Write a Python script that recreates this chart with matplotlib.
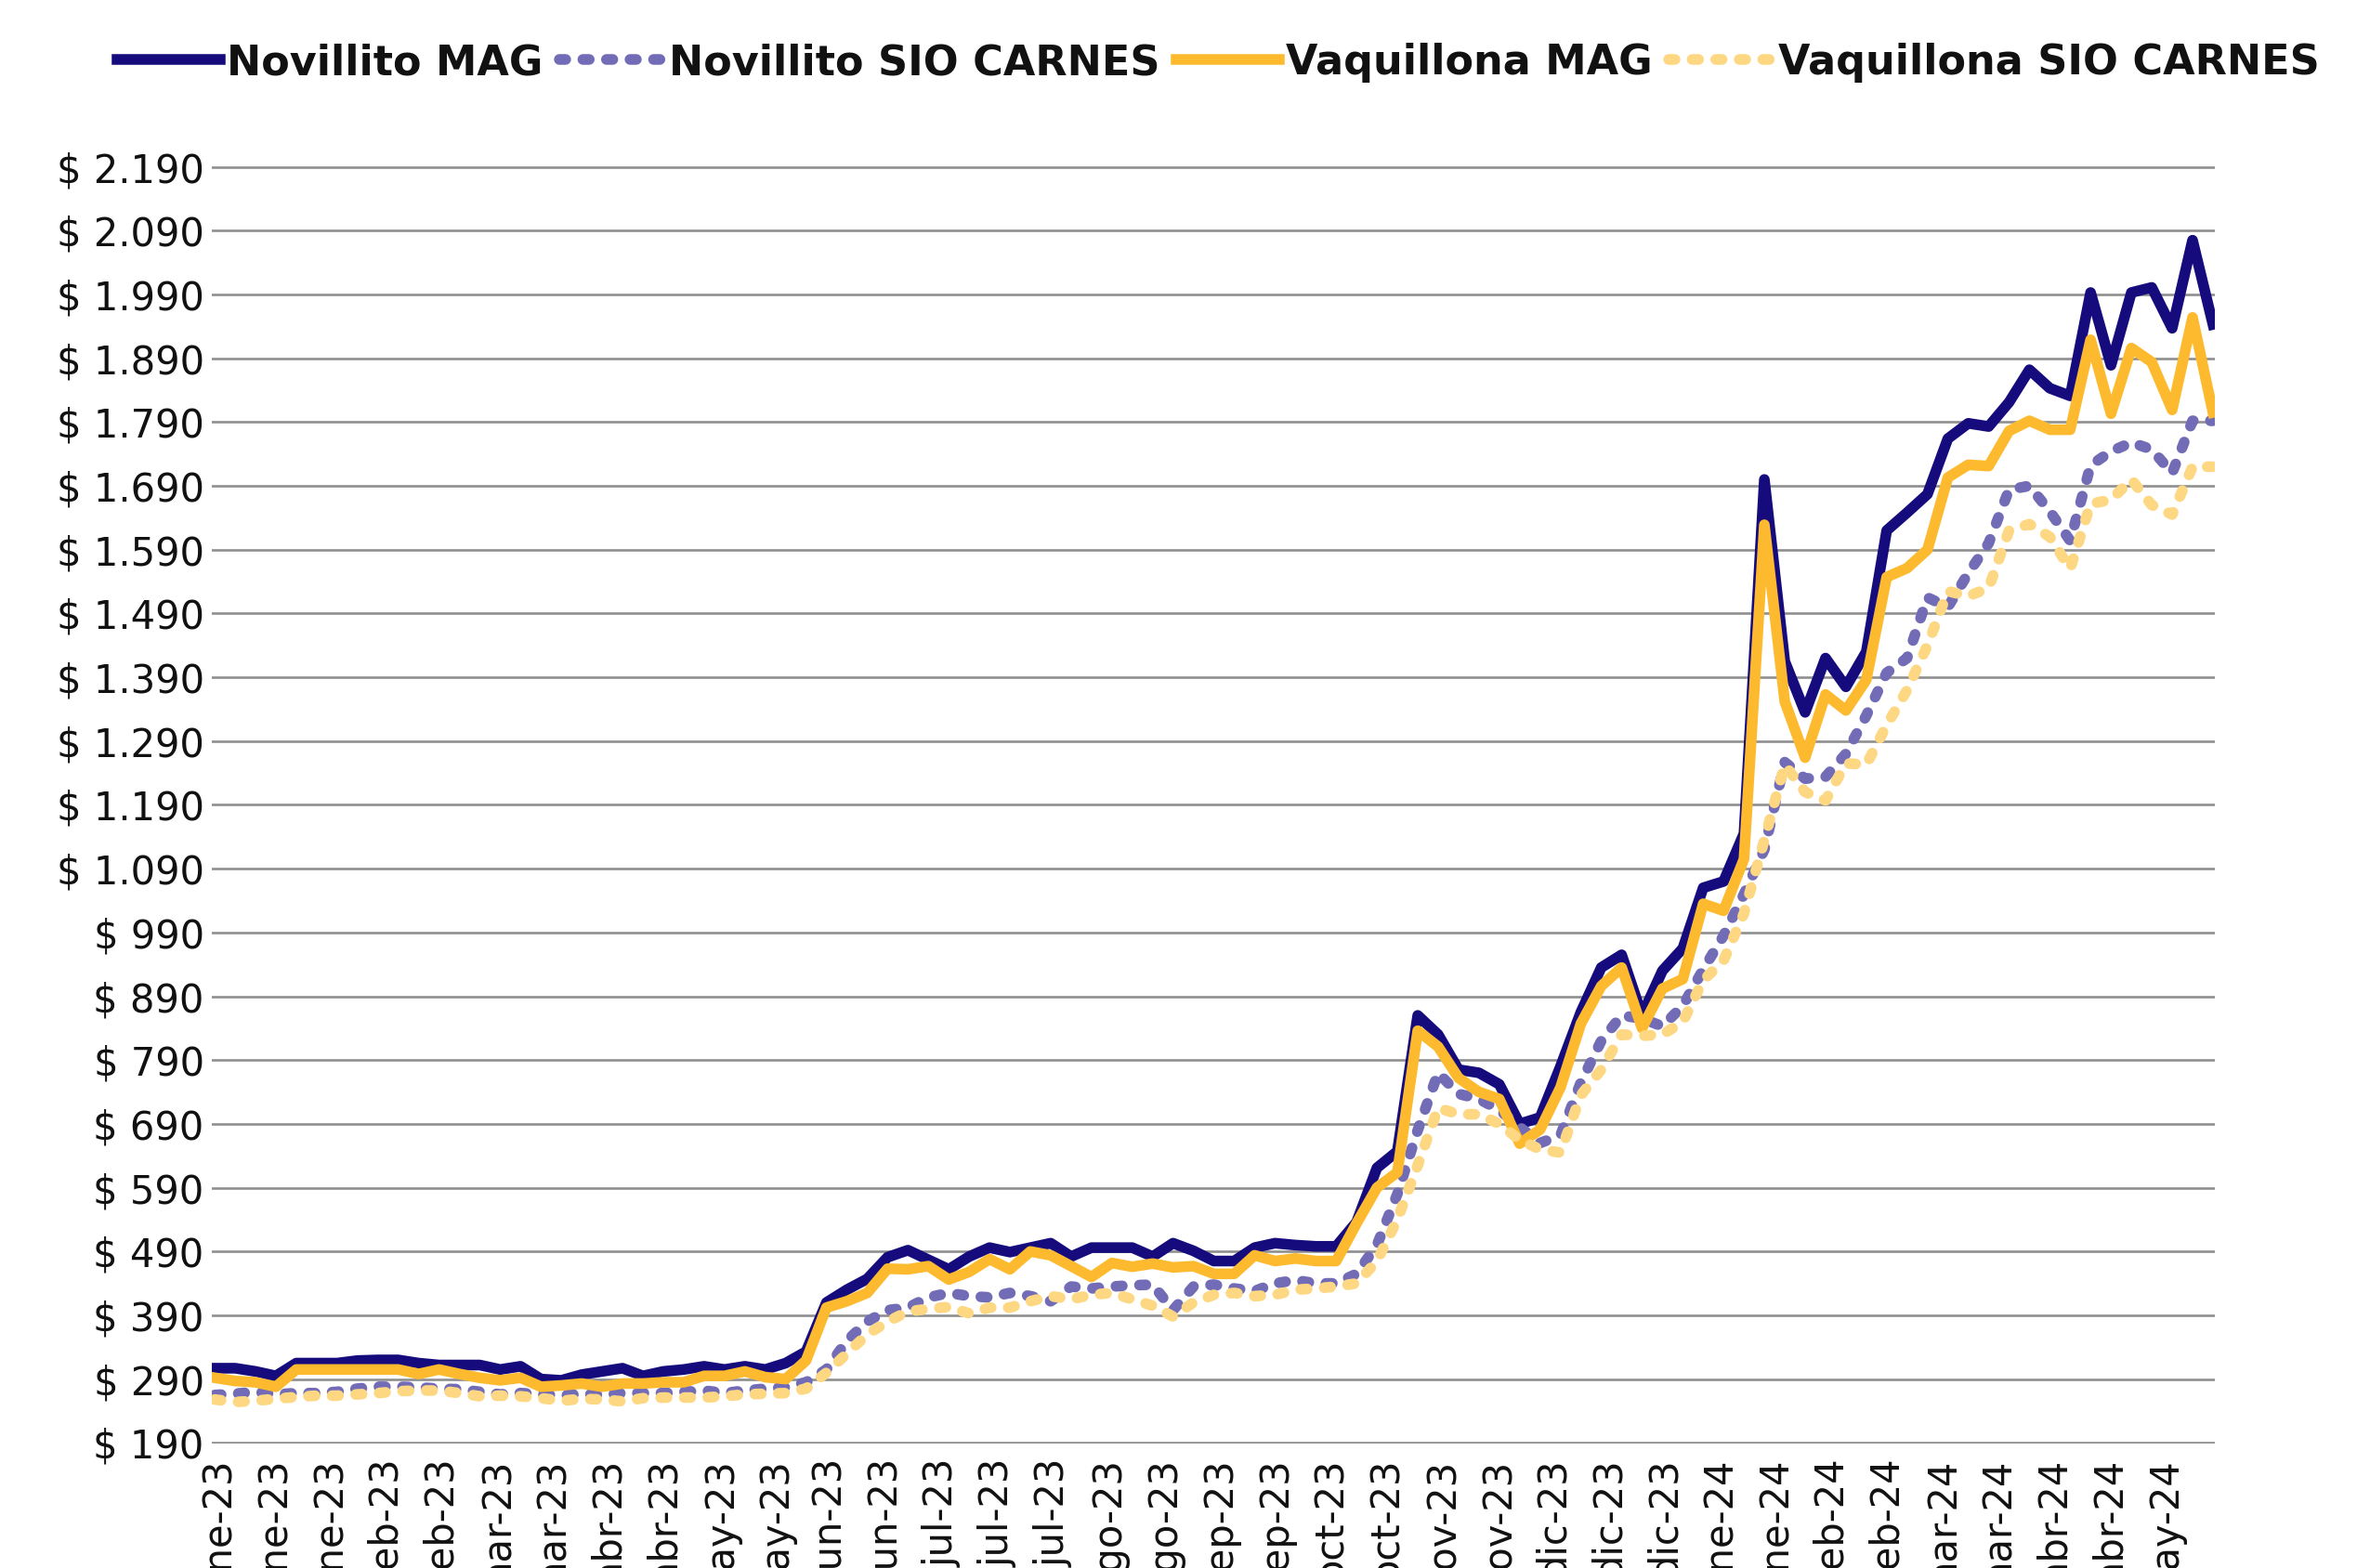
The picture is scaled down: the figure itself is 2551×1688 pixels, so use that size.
import numpy as np
import matplotlib
matplotlib.use("Agg")
import matplotlib.pyplot as plt
from matplotlib.ticker import FuncFormatter

# weekly-ish price series ($/kg)
novillito_mag = [
    307, 307, 302, 295, 315, 315, 315, 319, 320, 320, 315, 312, 312, 312, 305,
    310, 290, 288, 297, 302, 307, 295, 302, 305, 310, 305, 310, 305, 315, 333,
    410, 430, 447, 481, 492,
    477, 462, 482, 496, 489, 496, 503, 482, 496, 496, 496, 482, 503, 491, 475,
    475, 496, 503, 500,
    498, 498, 536, 621, 647,
    860, 830, 775, 770, 752, 690, 700, 780, 865, 935, 955, 860, 930, 965, 1060,
    1070, 1145, 1700, 1415, 1335, 1420, 1375, 1430, 1620, 1648, 1677, 1764, 1788, 1783, 1821,
    1872, 1843, 1831, 1993, 1879, 1993, 2001, 1937, 2075, 1943,
]
novillito_sio = [
    265, 267, 270, 266, 268, 268, 270, 275, 278, 278, 277, 275, 274, 270, 266,
    268, 266, 264, 267, 265, 268, 268, 268, 270, 272, 268, 272, 275, 277, 285,
    305, 350, 380, 398, 402,
    418, 425, 420, 418, 425, 420, 412, 435, 432, 435, 437, 438, 398, 435, 438,
    432, 428, 440, 445,
    440, 440, 455, 500, 580,
    680, 770, 737, 729, 712, 685, 660, 672, 755, 820, 860, 855, 843, 875, 932,
    985, 1050, 1120, 1257, 1231, 1234, 1270, 1330, 1397, 1420, 1515, 1500, 1553, 1600, 1684,
    1690, 1650, 1604, 1722, 1744, 1758, 1747, 1710, 1792, 1792,
]
vaquillona_mag = [
    292, 287, 285, 278, 305, 305, 305, 305, 305, 305, 298, 305, 298, 292, 288,
    292, 278, 280, 283, 278, 283, 283, 285, 285, 295, 295, 302, 293, 290, 319,
    402, 412, 425, 463, 462,
    467, 446, 458, 478, 462, 490, 484, 467, 450, 472, 466, 471, 465, 467, 455,
    455, 484, 475, 479,
    475, 475, 534, 590, 614,
    836, 811, 762, 740, 729, 659, 681, 747, 847, 906, 935, 840, 902, 917, 1035,
    1024, 1105, 1629, 1352, 1264, 1363, 1338, 1386, 1547, 1561, 1590, 1703, 1723, 1721, 1776,
    1792, 1778, 1778, 1919, 1803, 1906, 1884, 1809, 1954, 1805,
]
vaquillona_sio = [
    258, 254, 256, 259, 262, 264, 264, 266, 268, 271, 272, 272, 268, 263, 264,
    263, 260, 256, 259, 258, 255, 260, 261, 261, 261, 263, 266, 267, 268, 275,
    300, 330, 360, 380, 396,
    400, 403, 393, 402, 402, 412, 420, 415, 422, 425, 415, 405, 388, 410, 422,
    425, 420, 422, 430,
    432, 435, 440, 475, 540,
    625, 715, 705, 705, 690, 665, 650, 645, 735, 775, 830, 828, 830, 850, 915,
    946, 1020, 1135, 1253, 1210, 1197, 1255, 1253, 1315, 1370, 1440, 1525, 1517, 1530, 1620,
    1630, 1610, 1560, 1662, 1668, 1700, 1660, 1645, 1720, 1720,
]

x_labels = [
    "ene-23", "ene-23", "ene-23", "feb-23", "feb-23", "mar-23", "mar-23",
    "abr-23", "abr-23", "may-23", "may-23", "jun-23", "jun-23", "jul-23",
    "jul-23", "jul-23", "ago-23", "ago-23", "sep-23", "sep-23", "oct-23",
    "oct-23", "nov-23", "nov-23", "dic-23", "dic-23", "dic-23", "ene-24",
    "ene-24", "feb-24", "feb-24", "mar-24", "mar-24", "abr-24", "abr-24",
    "may-24",
]
y_ticks = list(range(190, 2191, 100))

series = [
    ("Novillito MAG", novillito_mag, "#150b7d", "solid"),
    ("Novillito SIO CARNES", novillito_sio, "#726cb6", "dot"),
    ("Vaquillona MAG", vaquillona_mag, "#fdba2f", "solid"),
    ("Vaquillona SIO CARNES", vaquillona_sio, "#fed783", "dot"),
]

fig = plt.figure(figsize=(25.51, 16.88), dpi=100)
ax = fig.add_axes([0.0894, 0.0794, 0.8451, 0.8146])

x = np.arange(len(novillito_mag))
for name, vals, col, style in series:
    if style == "solid":
        ax.plot(x, vals, color=col, lw=8.3, solid_joinstyle="round", label=name)
    else:
        ax.plot(x, vals, color=col, lw=8.3, linestyle=(0, (0.6, 1.6)),
                dash_capstyle="round", dash_joinstyle="round", label=name)

ax.set_xlim(-0.14, len(x) - 1 + 0.09)
ax.set_ylim(189, 2191)
ax.set_yticks(y_ticks)
ax.yaxis.set_major_formatter(FuncFormatter(lambda v, p: "$ " + f"{int(round(v)):,}".replace(",", ".")))
ax.grid(axis="y", color="#8f8f8f", lw=1.9)
ax.set_axisbelow(True)
for s in ax.spines.values():
    s.set_visible(False)

# category labels sit every ~2.7 points (the bottom of them is cut off, as in the original)
ax.set_xticks(0.23 + 2.7267 * np.arange(len(x_labels)))
ax.set_xticklabels(x_labels, rotation=90, ha="center", va="top")
ax.tick_params(axis="x", length=0, pad=11, labelsize=30, colors="#111111")
ax.tick_params(axis="y", length=0, pad=6, labelsize=30, colors="#111111")

leg = fig.legend(loc="center", bbox_to_anchor=(0.514, 0.96), ncol=4, frameon=False,
                 handlelength=2.5, handletextpad=0.15, columnspacing=0.4,
                 prop={"weight": "bold", "size": 32})
for t in leg.get_texts():
    t.set_color("#111111")

fig.savefig("out.png", dpi=100)
